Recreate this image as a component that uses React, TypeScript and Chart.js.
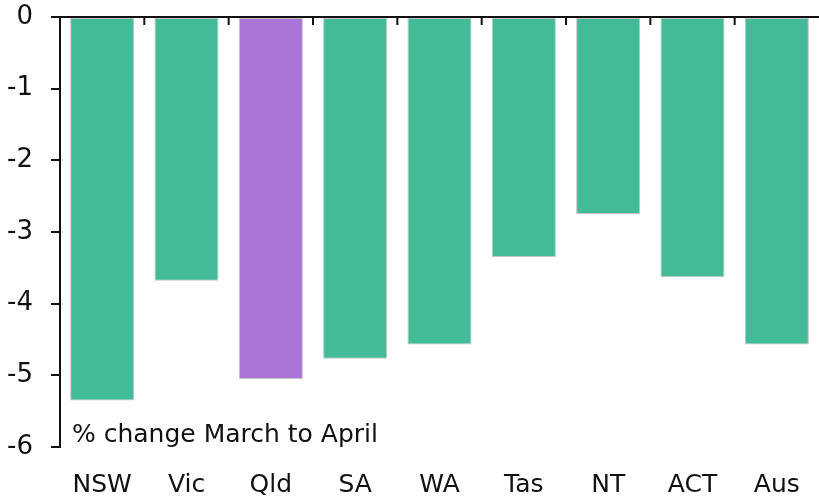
import React, { useEffect, useRef } from "react";
import { Chart, registerables } from "chart.js";

Chart.register(...registerables);

const categories = ["NSW", "Vic", "Qld", "SA", "WA", "Tas", "NT", "ACT", "Aus"];
const values = [-5.35, -3.68, -5.05, -4.77, -4.57, -3.35, -2.75, -3.63, -4.57];
const highlight = "Qld";
const yTicks = [0, -1, -2, -3, -4, -5, -6];
const noteText = "% change March to April";

const GREEN = "#44BB98";
const PURPLE = "#A974D6";
const FONT = "'DejaVu Sans', 'Liberation Sans', sans-serif";

const decorPlugin = {
  id: "decor",
  afterDatasetsDraw(chart: any) {
    const { ctx, chartArea, scales } = chart;
    const x = scales.x;
    const y = scales.y;
    const y0 = y.getPixelForValue(0);
    ctx.save();
    ctx.strokeStyle = "#111";
    ctx.lineWidth = 2;
    ctx.beginPath();
    ctx.moveTo(chartArea.left - 9, y0);
    ctx.lineTo(chartArea.right, y0);
    ctx.stroke();
    for (let i = 0; i < categories.length - 1; i++) {
      const bx = (x.getPixelForValue(i) + x.getPixelForValue(i + 1)) / 2;
      ctx.beginPath();
      ctx.moveTo(bx, y0);
      ctx.lineTo(bx, y0 + 8);
      ctx.stroke();
    }
    ctx.fillStyle = "#111";
    ctx.font = `25px ${FONT}`;
    ctx.textAlign = "left";
    ctx.textBaseline = "alphabetic";
    ctx.fillText(noteText, chartArea.left + 12, chartArea.bottom - 5);
    ctx.restore();
  },
};

export default function App() {
  const ref = useRef<HTMLCanvasElement>(null);
  useEffect(() => {
    if (!ref.current) return;
    const chart = new Chart(ref.current, {
      type: "bar",
      data: {
        labels: categories,
        datasets: [
          {
            data: values,
            backgroundColor: categories.map((c) => (c === highlight ? PURPLE : GREEN)),
            borderColor: "#c4c4c4",
            borderWidth: 1,
            borderSkipped: false,
            categoryPercentage: 1,
            barPercentage: 0.76,
          },
        ],
      },
      options: {
        responsive: false,
        animation: false,
        layout: { padding: { top: 17, right: 0, left: 0, bottom: 0 } },
        plugins: { legend: { display: false }, tooltip: { enabled: false } },
        scales: {
          x: {
            position: "bottom",
            grid: { display: false, drawTicks: false },
            border: { display: false },
            ticks: {
              color: "#111",
              font: { size: 25, family: FONT },
              padding: 23,
              maxRotation: 0,
            },
            afterFit(scale: any) {
              scale.height = 55;
              scale.paddingLeft = 0;
              scale.paddingRight = 0;
            },
          },
          y: {
            min: -6,
            max: 0,
            afterBuildTicks(scale: any) {
              scale.ticks = yTicks.map((v) => ({ value: v }));
            },
            grid: {
              drawOnChartArea: false,
              drawTicks: true,
              tickLength: 9,
              color: "#111",
              lineWidth: 2,
            },
            border: { display: true, color: "#111", width: 2 },
            ticks: {
              color: "#111",
              font: { size: 26, family: FONT },
              padding: 18,
              callback: (v: any) => String(v),
            },
            afterFit(scale: any) {
              scale.width = 60;
              scale.paddingTop = 0;
              scale.paddingBottom = 0;
            },
          },
        },
      },
      plugins: [decorPlugin],
    });
    return () => chart.destroy();
  }, []);
  return (
    <div style={{ position: "fixed", left: 0, top: 0, width: 819, height: 502, background: "#fff" }}>
      <canvas ref={ref} width={819} height={502} style={{ display: "block" }} />
    </div>
  );
}
